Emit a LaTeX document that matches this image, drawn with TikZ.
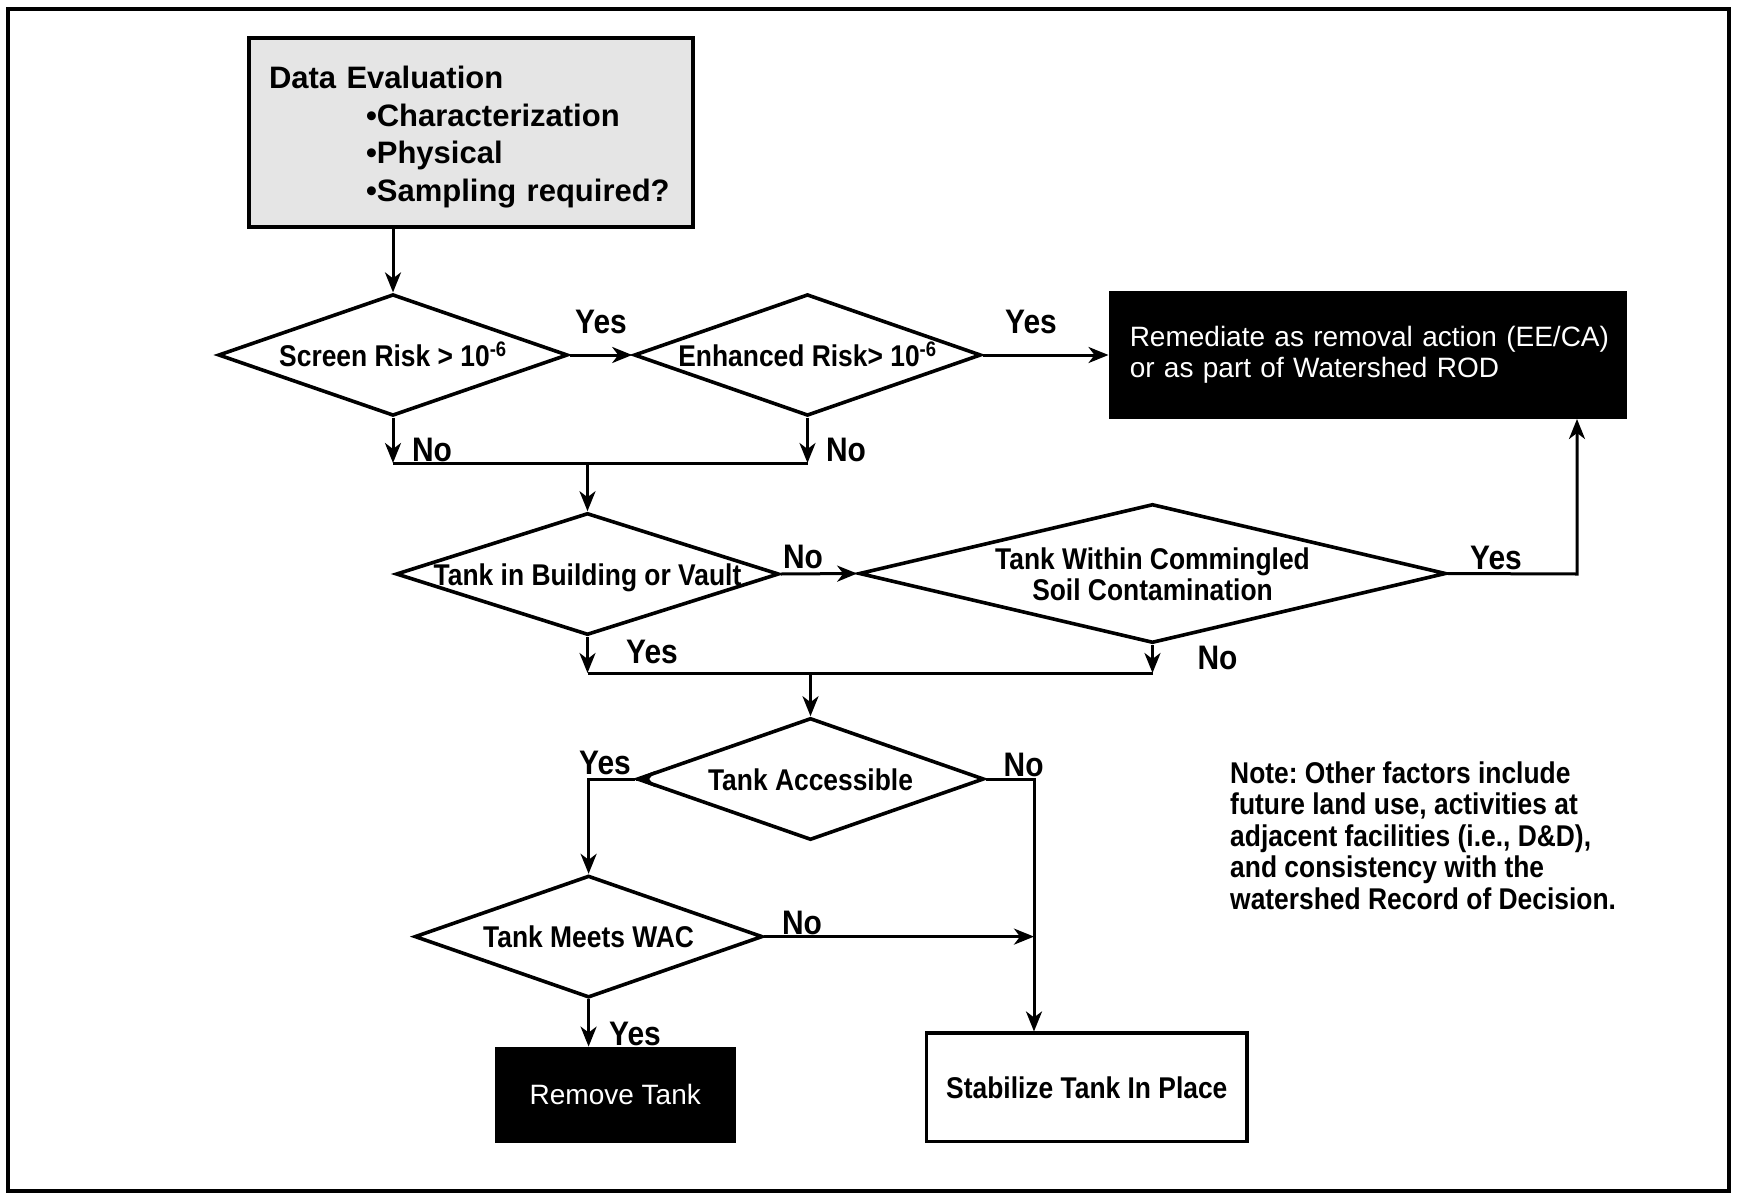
\documentclass[tikz,border=0pt]{standalone}
\usepackage{fontspec}
\setmainfont{Liberation Sans}
\newfontfamily\cond[FakeStretch=0.88]{Liberation Sans}
\usetikzlibrary{shapes.geometric,arrows.meta}
\newcommand{\dtext}[1]{\makebox[0pt]{\raisebox{-11pt}[0pt][0pt]{#1}}}

\begin{document}
\frenchspacing
\begin{tikzpicture}[x=1pt,y=-1pt,
  dia/.style={diamond, draw, line width=3.6pt, inner sep=0pt, fill=white,
    font=\cond\bfseries\fontsize{30}{32}\selectfont},
  conn/.style={line width=3pt},
  arr/.style={conn,-{Stealth[length=20pt,width=16pt,inset=6pt]}},
  lbl/.style={font=\cond\bfseries\fontsize{34}{36}\selectfont, inner sep=0pt},
  blackbox/.style={draw=black, fill=black, text=white, line width=2pt, inner sep=0pt,
    font=\fontsize{28}{31}\selectfont},
]
\useasboundingbox (0,0) rectangle (1738,1194);
\draw[line width=3.2pt] (8,9) rectangle (1729,1191);

% boxes
\node[draw, line width=3.2pt, fill=gray!20, minimum width=444pt, minimum height=189pt,
  inner sep=0pt, text width=404pt, align=left,
  font=\bfseries\fontsize{31}{37.7}\selectfont] (data) at (471,132.5)
  {\rule{0pt}{31.6pt}Data Evaluation\\ \hspace*{97pt}•Characterization\\ \hspace*{97pt}•Physical\\ \hspace*{97pt}•Sampling required?};

\node[blackbox, minimum width=516.5pt, minimum height=126.5pt, text width=476pt, align=left]
  (rem) at (1367.75,354.75) {\mbox{Remediate as removal action (EE/CA)}\\\mbox{or as part of Watershed ROD}};

\node[blackbox, minimum width=239.5pt, minimum height=94pt] (rmv) at (615.25,1094.6) {Remove Tank};

\node[draw, line width=3.2pt, fill=white, minimum width=320.4pt, minimum height=108.7pt,
  inner sep=0pt, font=\cond\bfseries\fontsize{30}{32}\selectfont] (stab) at (1086.8,1087.4)
  {Stabilize Tank In Place};

% diamonds
\node[dia, minimum width=349.5pt, minimum height=121.6pt] (scr) at (393,355)
  {\dtext{Screen Risk > 10\textsuperscript{-6}}};
\node[dia, minimum width=347pt, minimum height=121.6pt] (enh) at (807.5,355)
  {\dtext{Enhanced Risk> 10\textsuperscript{-6}}};
\node[dia, minimum width=383pt, minimum height=122pt] (tib) at (587.5,574)
  {\dtext{Tank in Building or Vault}};
\node[dia, minimum width=587pt, minimum height=139pt] (com) at (1152.5,573.5)
  {\makebox[0pt]{\raisebox{-27pt}[0pt][0pt]{\begin{tabular}[b]{@{}c@{}}Tank Within Commingled\\[-1pt]Soil Contamination\end{tabular}}}};
\node[dia, minimum width=347pt, minimum height=122pt] (acc) at (810.5,779)
  {\dtext{Tank Accessible}};
\node[dia, minimum width=348pt, minimum height=122pt] (wac) at (588.6,936.6)
  {\dtext{Tank Meets WAC}};

% junction coordinates
\coordinate (j1) at (600,463);
\coordinate (j2) at (800,673);
\coordinate (yr) at (1577,574);
\coordinate (nj) at (1034,779);

% connectors
\draw[arr] (scr.north |- data.south) -- (scr.north);
\draw[arr] (scr.east) -- (enh.west);
\draw[arr] (enh.east) -- (enh.east -| rem.west);
\draw[arr] (scr.south) -- (scr.south |- j1);
\draw[arr] (enh.south) -- (enh.south |- j1);
\draw[conn] (scr.south |- j1) -- (enh.south |- j1);
\draw[arr] (tib.north |- j1) -- (tib.north);
\draw[arr] (tib.east) -- (com.west);
\draw[arr] (com.east) -- (yr) -- (yr |- rem.south);
\draw[arr] (tib.south) -- (tib.south |- j2);
\draw[arr] (com.south) -- (com.south |- j2);
\draw[conn] (tib.south |- j2) -- (com.south |- j2);
\draw[arr] (acc.north |- j2) -- (acc.north);
\draw[arr] (acc.west) -| (wac.north);
\draw[arr] ([xshift=1pt]acc.west) -- (acc.west);
\draw[arr] (acc.east) -- (nj) -- (nj |- stab.north);
\draw[arr] (wac.east) -- (wac.east -| nj);
\draw[arr] (wac.south) -- (wac.south |- rmv.north);

% labels
\node[lbl] (l1) at (601,322) {Yes};
\node[lbl] (l2) at (1031,322) {Yes};
\node[lbl] (l3) at (432,450) {No};
\node[lbl] (l4) at (846,450) {No};
\node[lbl] (l5) at (803,557) {No};
\node[lbl] (l6) at (1496,557.5) {Yes};
\node[lbl] (l7) at (652,652) {Yes};
\node[lbl] (l8) at (1217.5,658) {No};
\node[lbl] (l9) at (605,763) {Yes};
\node[lbl] (l10) at (1023.6,765) {No};
\node[lbl] (l11) at (802,922.7) {No};
\node[lbl] (l12) at (635,1033.6) {Yes};

% note
\node[anchor=west, align=left, inner sep=0pt,
  font=\cond\bfseries\fontsize{30}{31.4}\selectfont] (note) at (1230,835.5)
  {Note: Other factors include\\future land use, activities at\\adjacent facilities (i.e., D\&D),\\and consistency with the\\watershed Record of Decision.};
\end{tikzpicture}
\end{document}
